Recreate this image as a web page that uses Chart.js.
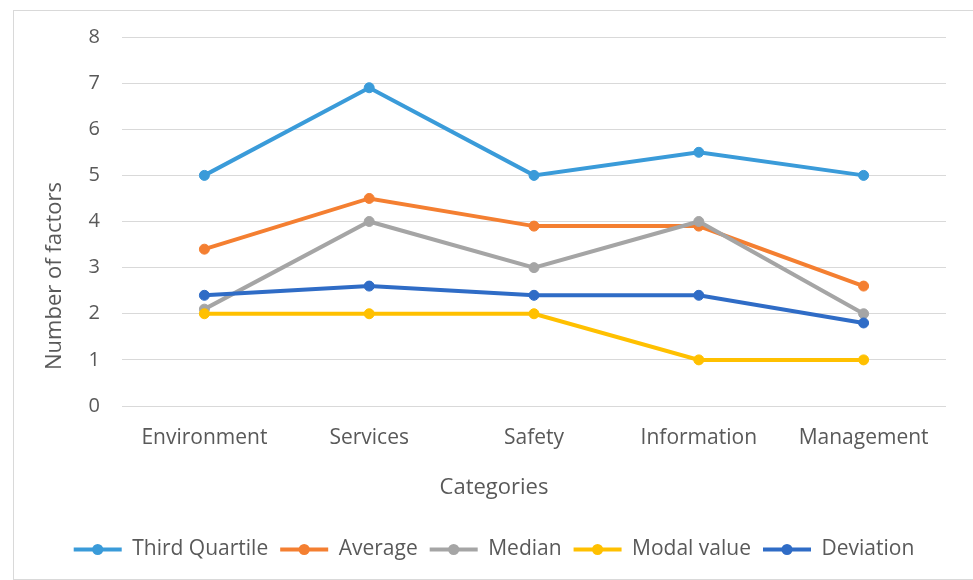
<!DOCTYPE html>
<html>
<head>
<meta charset="utf-8">
<script src="https://cdn.jsdelivr.net/npm/chart.js@4/dist/chart.umd.min.js"></script>
<style>
  html, body { margin: 0; padding: 0; background: #fff; }
  #frame {
    position: absolute; left: 13px; top: 10px;
    width: 962px; height: 570px;
    box-sizing: border-box; border: 1px solid #d9d9d9; background: #fff;
  }
  #chart { display: block; }
</style>
</head>
<body>
<div id="frame"><canvas id="chart" width="960" height="568"></canvas></div>
<script>
const categories = ['Environment', 'Services', 'Safety', 'Information', 'Management'];
const thirdQuartile = [5, 6.9, 5, 5.5, 5];
const average = [3.4, 4.5, 3.9, 3.9, 2.6];
const median = [2.1, 4, 3, 4, 2];
const modalValue = [2, 2, 2, 1, 1];
const deviation = [2.4, 2.6, 2.4, 2.4, 1.8];
const yTicks = [0, 1, 2, 3, 4, 5, 6, 7, 8];

const TEXT = '#595959';
const FONT = "'Open Sans', sans-serif";

function series(label, data, color, order) {
  return {
    label, data, order,
    borderColor: color,
    backgroundColor: color,
    borderWidth: 4,
    pointRadius: 5,
    pointBorderWidth: 1,
    pointHoverRadius: 5,
    tension: 0,
  };
}

// draws the dot on each legend line and the two axis titles
const extras = {
  id: 'extras',
  afterDraw(chart) {
    const ctx = chart.ctx;
    const legend = chart.legend;
    const fontSize = legend.options.labels.font.size;
    const bw = legend.options.labels.pointStyleWidth;
    legend.legendItems.forEach((item, i) => {
      const hb = legend.legendHitBoxes[i];
      ctx.save();
      ctx.fillStyle = item.strokeStyle;
      ctx.beginPath();
      ctx.arc(hb.left + bw / 2, hb.top + fontSize / 2, 5.5, 0, Math.PI * 2);
      ctx.fill();
      ctx.restore();
    });

    const area = chart.chartArea;
    ctx.save();
    ctx.fillStyle = TEXT;
    ctx.font = `22px ${FONT}`;
    ctx.textAlign = 'center';
    ctx.textBaseline = 'middle';
    ctx.fillText('Categories', chart.width / 2, area.bottom + 82);
    ctx.translate(41, (area.top + legend.top) / 2 - 6);
    ctx.rotate(-Math.PI / 2);
    ctx.fillText('Number of factors', 0, 0);
    ctx.restore();
  }
};

const legendDefaults = Chart.defaults.plugins.legend.labels.generateLabels;

new Chart(document.getElementById('chart'), {
  type: 'line',
  data: {
    labels: categories,
    datasets: [
      series('Third Quartile', thirdQuartile, '#3a9bd9', 5),
      series('Average', average, '#f47f31', 4),
      series('Median', median, '#a5a5a5', 3),
      series('Modal value', modalValue, '#ffc000', 2),
      series('Deviation', deviation, '#2f6cc6', 1),
    ],
  },
  plugins: [extras],
  options: {
    responsive: false,
    animation: false,
    layout: { padding: { top: 13, right: 28, left: 28, bottom: 9 } },
    plugins: {
      tooltip: { enabled: false },
      legend: {
        position: 'bottom',
        labels: {
          usePointStyle: true,
          pointStyle: 'line',
          pointStyleWidth: 48,
          boxHeight: 12,
          padding: 12,
          color: TEXT,
          font: { family: FONT, size: 21 },
          generateLabels: (chart) => legendDefaults(chart).map(l => ({ ...l, lineWidth: 4 })),
          sort: (a, b) => a.datasetIndex - b.datasetIndex,
        },
      },
    },
    scales: {
      x: {
        offset: true,
        grid: { display: false, drawTicks: false },
        border: { display: false },
        ticks: { color: TEXT, font: { family: FONT, size: 21 }, padding: 19, maxRotation: 0 },
        afterFit: (scale) => { scale.height = 121; },
      },
      y: {
        min: 0,
        max: 8,
        afterBuildTicks: (scale) => { scale.ticks = yTicks.map(v => ({ value: v })); },
        grid: { color: '#d9d9d9', lineWidth: 1, drawTicks: true, tickLength: 8, tickColor: 'rgba(0,0,0,0)' },
        border: { display: false },
        ticks: { color: TEXT, font: { family: FONT, size: 20 }, padding: 14 },
        afterFit: (scale) => { scale.width = 80; },
      },
    },
  },
});
</script>
</body>
</html>
